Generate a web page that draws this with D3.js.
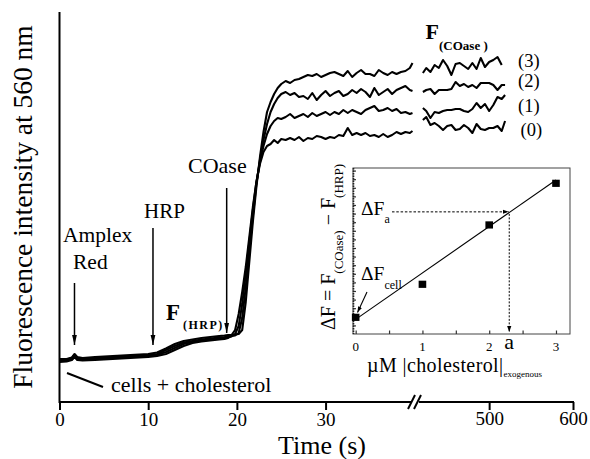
<!DOCTYPE html>
<html><head><meta charset="utf-8">
<script src="https://cdn.jsdelivr.net/npm/d3@7"></script>
<style>body{margin:0;background:#fff}svg{display:block}</style>
</head><body><svg id="c" width="590" height="459"></svg>
<script>
// ---------- DATA ----------
// main panel: time (s) and fluorescence (a.u.) for four cholesterol levels (0..3)
const time1 = [0,0.8,1.4,1.7,2.0,2.6,4,6,8,10,11,12,13,14,15,16,17,18,18.6,
  19.0,19.4,19.8,20.2,20.6,21.0,21.4,21.8,22.2,22.6,23.0,23.4,23.8,24.2,24.6,25.0,
  25.5,26,26.5,27,27.5,28,28.5,29,29.5,30,30.5,31,31.5,32,32.5,33,33.5,34,34.5,35,35.5,36,36.5,37,37.5,38,38.5,39,39.5,39.8];
const curve0a = [40,40.5,42,45,42,41.5,42,43,44,45,46,48,52,56,59,60.5,61.5,62.5,63,
  64,67,72,88,110,135,165,195,220,238,250,256,258,262,259,263,
  262,264,262,265,261,264,263,266,265,263,265,264,267,266,274,267,269,267,269,266,267,265,268,265,267,270,268,270,269,271];
const curve1a = [41,41.5,43,46,43,42.5,43,44,45,46,47,50,54,58,60,61.5,62.5,63.5,64,
  64.5,65.5,68,76,98,128,160,192,220,240,256,268,276,281,284,283,
  285,288,284,286,288,285,289,286,288,290,287,290,288,292,289,292,290,288,292,294,296,291,292,294,291,293,289,290,288,289];
const curve2a = [42,42.5,44,47,44,43.5,44,45,46,47,48,52,56,59.5,61,62.5,63.5,64.5,65,
  65.5,66,66.5,69,84,115,150,186,218,242,262,278,290,298,304,308,
  310,307,309,305,306,303,309,302,307,311,306,309,311,306,308,312,309,313,310,305,314,307,310,313,308,312,314,316,312,311];
const curve3a = [43,43,44.5,48,45,44,45,46,47,48,49.5,53.5,58,61,62.5,64,65,66,66.5,
  67,67,67.5,68,72,100,140,180,215,245,270,290,300,308,314,318,
  321,319,322,323,325,327,326,328,325,327,329,330,328,326,331,325,329,332,328,328,326,332,329,327,330,328,330,331,334,339];
const time2 = [421,425,430,435,440,445,450,455,460,465,470,475,480,485,490,495,500,505,510,515,519];
const curve0b = [282,285,277,279,276,272,276,277,272,273,277,274,269,278,273,272,274,274,276,271,281];
const curve1b = [294,291,284,290,289,291,292,292,293,293,291,290,293,299,294,298,291,297,305,303,307];
const curve2b = [310,312,313,308,312,312,312,313,320,316,318,315,317,314,319,319,319,317,312,317,317];
const curve3b = [329,334,330,337,334,342,336,327,338,339,336,333,339,333,344,335,340,342,345,337,null];
const curveLabels = ["(0)","(1)","(2)","(3)"];
const xTicks = [0,10,20,30,500,600];
// addition arrows: time (s), top and bottom (a.u.)
const addNames = ["Amplex Red","HRP","COase"];
const addTime = [1.69,10.54,18.85];
const addTop = [119,174,214];
const addBottom = [57,57,69];
// inset: exogenous cholesterol (µM) vs ΔF
const cholX = [0,1,2,3];
const deltaF = [0.97,2.89,6.34,8.76];
const fitX = [0,3];
const fitDF = [0.85,8.95];
const aValue = 2.3, dFa = 7.1;
const insetTicks = [0,1,2,3];

// ---------- DRAW ----------
const FF = "'Liberation Serif','Times New Roman',serif";
const svg = d3.select("#c");
svg.append("rect").attr("width",590).attr("height",459).attr("fill","#fff");
const defs = svg.append("defs");
defs.append("marker").attr("id","ah").attr("viewBox","0 0 10 10").attr("refX",10).attr("refY",5)
  .attr("markerWidth",10).attr("markerHeight",10).attr("markerUnits","userSpaceOnUse").attr("orient","auto")
  .append("path").attr("d","M0,2.6 L10,5 L0,7.4 Z").attr("fill","#000");
defs.append("marker").attr("id","ahs").attr("viewBox","0 0 10 10").attr("refX",10).attr("refY",5)
  .attr("markerWidth",6).attr("markerHeight",6).attr("markerUnits","userSpaceOnUse").attr("orient","auto")
  .append("path").attr("d","M0,1.5 L10,5 L0,8.5 Z").attr("fill","#000");

const x = d3.scaleLinear().domain([0,40.5,416,600]).range([59.5,418.7,418.7,573]);
const y = d3.scaleLinear().domain([0,390]).range([402,12]);

// axes
const gx = svg.append("g").attr("transform","translate(0,402)")
  .call(d3.axisBottom(x).tickValues(xTicks).tickSize(8).tickFormat(d3.format("d")));
gx.select(".domain").remove();
gx.selectAll(".tick line").attr("stroke","#000").attr("stroke-width",2);
gx.selectAll(".tick text").attr("font-family",FF).attr("font-size",19).attr("fill","#000")
  .attr("dy",null).attr("y",d => d>=500 ? 23 : 24);
svg.append("line").attr("x1",x(0)).attr("x2",411).attr("y1",402).attr("y2",402).attr("stroke","#000").attr("stroke-width",2);
svg.append("line").attr("x1",419).attr("x2",x(600)+1).attr("y1",402).attr("y2",402).attr("stroke","#000").attr("stroke-width",2);
svg.append("line").attr("x1",408).attr("y1",409).attr("x2",415).attr("y2",395).attr("stroke","#000").attr("stroke-width",2);
svg.append("line").attr("x1",414).attr("y1",409).attr("x2",421).attr("y2",395).attr("stroke","#000").attr("stroke-width",2);
svg.append("line").attr("x1",x(0)).attr("x2",x(0)).attr("y1",12).attr("y2",403).attr("stroke","#000").attr("stroke-width",2);

svg.append("text").attr("x",322).attr("y",453.5).attr("text-anchor","middle").attr("font-family",FF).attr("font-size",26).text("Time (s)");
svg.append("text").attr("transform","translate(32,207) rotate(-90)").attr("text-anchor","middle")
  .attr("font-family",FF).attr("font-size",27.5).text("Fluorescence intensity at 560 nm");

// curves
const line = d3.line().defined(d => d[1] != null).x(d => x(d[0])).y(d => y(d[1]));
const segA = [curve0a,curve1a,curve2a,curve3a];
const segB = [curve0b,curve1b,curve2b,curve3b];
segA.forEach(v => svg.append("path").attr("d",line(time1.map((t,i)=>[t,v[i]])))
  .attr("fill","none").attr("stroke","#000").attr("stroke-width",2.1).attr("stroke-linejoin","round"));
segB.forEach(v => svg.append("path").attr("d",line(time2.map((t,i)=>[t,v[i]])))
  .attr("fill","none").attr("stroke","#000").attr("stroke-width",2.1).attr("stroke-linejoin","round"));

// curve labels
const labY = [136,112,87,67], labX = [520.5,518,518,518];
curveLabels.forEach((s,i)=>svg.append("text").attr("x",labX[i]).attr("y",labY[i]).attr("font-family",FF).attr("font-size",18.5).text(s));

// addition arrows
addTime.forEach((t,i)=>svg.append("line").attr("x1",x(t)).attr("x2",x(t)).attr("y1",y(addTop[i])).attr("y2",y(addBottom[i]))
  .attr("stroke","#000").attr("stroke-width",1.5).attr("marker-end","url(#ah)"));
const ann = (t,xx,yy,fs,w) => svg.append("text").attr("x",xx).attr("y",yy).attr("font-family",FF).attr("font-size",fs).attr("font-weight",w||"normal").text(t);
ann("Amplex",63,242,21.5);
ann("Red",73,269,21.5);
ann("HRP",144,218,21);
ann("COase",188,173,22);
ann("cells + cholesterol",111,392,22);
svg.append("line").attr("x1",67).attr("y1",373).attr("x2",103).attr("y2",387).attr("stroke","#000").attr("stroke-width",2);
ann("F",166,320,23,"bold");
ann("(HRP)",183,329,12,"bold").attr("letter-spacing",1.5);
ann("F",425.5,39,22,"bold");
ann("(COase )",439,50,13,"bold");

// ---------- INSET ----------
const ix = d3.scaleLinear().domain([-0.04,3.21]).range([353,570]);
const iy = d3.scaleLinear().domain([0,9.65]).range([334,168]);
svg.append("rect").attr("x",353).attr("y",168).attr("width",217).attr("height",166).attr("fill","#fff").attr("stroke","#444").attr("stroke-width",1);
const gl = svg.append("g").attr("transform","translate(353,0)")
  .call(d3.axisLeft(iy).tickValues([0.5,1,1.5,2,2.5,3,3.5,4,4.5,5,5.5,6,6.5,7,7.5,8,8.5,9,9.5]).tickSize(-3).tickFormat(""));
gl.select(".domain").remove();
gl.selectAll(".tick line").attr("stroke","#333").attr("stroke-width",1.2);
svg.append("line").attr("x1",353.5).attr("x2",353.5).attr("y1",168).attr("y2",334).attr("stroke","#222").attr("stroke-width",1.6).attr("stroke-dasharray","1.5,1");
const gb = svg.append("g").attr("transform","translate(0,334)")
  .call(d3.axisBottom(ix).tickValues([0,0.5,1,1.5,2,2.5,3]).tickSize(-3.5).tickFormat(""));
gb.select(".domain").remove();
gb.selectAll(".tick line").attr("stroke","#333").attr("stroke-width",1.2);
insetTicks.forEach(v=>svg.append("text").attr("x",ix(v)).attr("y",351).attr("text-anchor","middle").attr("font-family",FF).attr("font-size",13).text(v));
svg.append("text").attr("x",ix(aValue)).attr("y",348.5).attr("text-anchor","middle").attr("font-family",FF).attr("font-size",22).text("a");

// fit line
svg.append("path").attr("d",d3.line().x((d,i)=>ix(d)).y((d,i)=>iy(fitDF[i]))(fitX))
  .attr("fill","none").attr("stroke","#000").attr("stroke-width",1.1);
// dashed guides
svg.append("line").attr("x1",392).attr("x2",ix(aValue)-0.5).attr("y1",iy(dFa)).attr("y2",iy(dFa))
  .attr("stroke","#000").attr("stroke-width",1).attr("stroke-dasharray","2.5,1.8").attr("marker-end","url(#ahs)");
svg.append("line").attr("x1",ix(aValue)).attr("x2",ix(aValue)).attr("y1",iy(dFa)+2).attr("y2",332)
  .attr("stroke","#000").attr("stroke-width",1).attr("stroke-dasharray","2,1.5").attr("marker-end","url(#ahs)");
// points
svg.selectAll("rect.pt").data(cholX).enter().append("rect").attr("class","pt")
  .attr("x",(d)=>ix(d)-3.8).attr("y",(d,i)=>iy(deltaF[i])-3.6).attr("width",7.6).attr("height",7.2).attr("fill","#000");

// inset labels
const t1 = svg.append("text").attr("x",361).attr("y",215).attr("font-family",FF).attr("font-size",19.5);
t1.append("tspan").text("ΔF");
t1.append("tspan").attr("font-size",12).attr("dy",8).text("a");
const t2 = svg.append("text").attr("x",361).attr("y",280).attr("font-family",FF).attr("font-size",19.5);
t2.append("tspan").text("ΔF");
t2.append("tspan").attr("font-size",12).attr("dy",9).text("cell");
svg.append("line").attr("x1",367).attr("y1",292).attr("x2",357.5).attr("y2",312.5).attr("stroke","#000").attr("stroke-width",1.1).attr("marker-end","url(#ahs)");
const t3 = svg.append("text").attr("x",367).attr("y",372).attr("font-family",FF).attr("font-size",20).attr("letter-spacing",0.4);
t3.append("tspan").text("µM |cholesterol|");
t3.append("tspan").attr("font-size",9).attr("letter-spacing",0).attr("dy",5).text("exogenous");
const t4 = svg.append("text").attr("transform","translate(335,247) rotate(-90)").attr("text-anchor","middle").attr("font-family",FF).attr("font-size",20);
t4.append("tspan").text("ΔF = F");
t4.append("tspan").attr("font-size",13).attr("dy",8).text("(COase)");
t4.append("tspan").attr("dy",-8).text(" − F");
t4.append("tspan").attr("font-size",13).attr("dy",8).text("(HRP)");
</script>
</body></html>
